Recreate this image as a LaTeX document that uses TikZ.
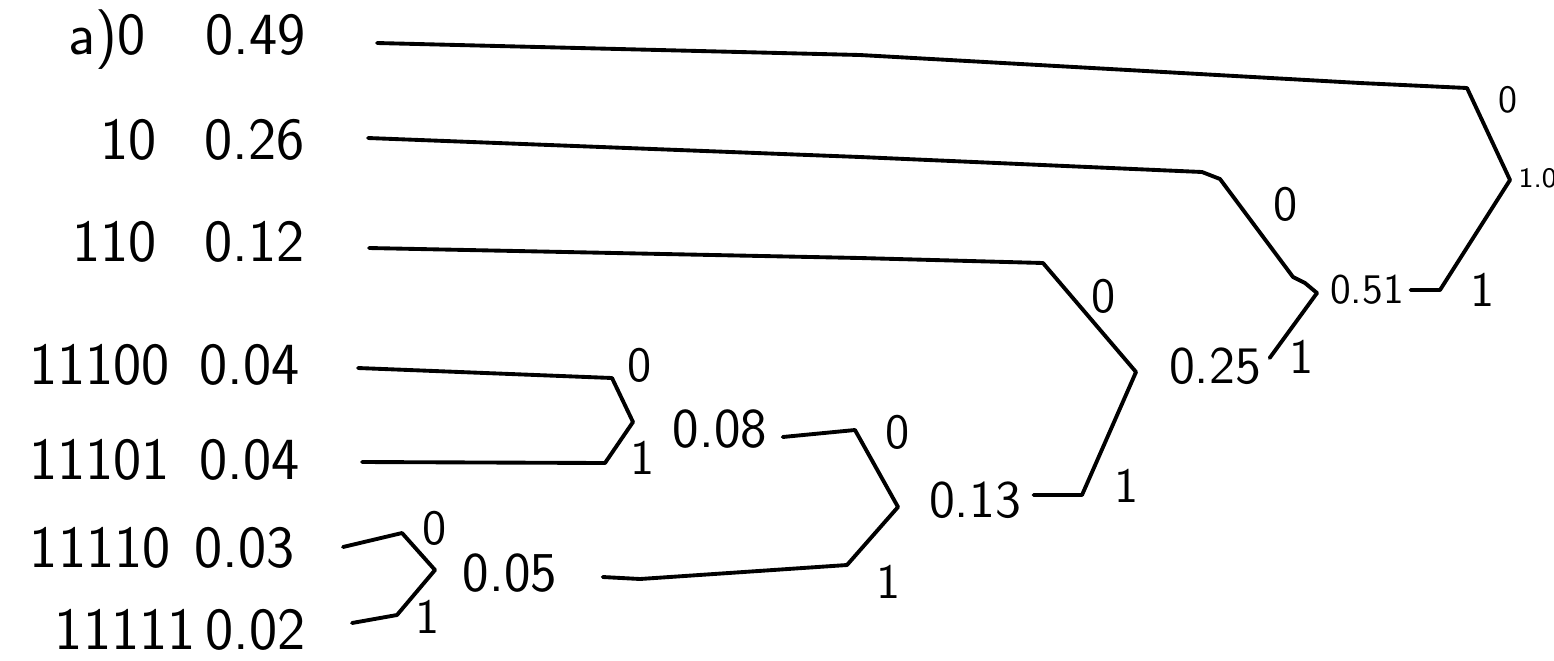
\documentclass[tikz,border=0pt]{standalone}
\usepackage{fontspec}
\usetikzlibrary{calc}
\begin{document}
\begin{tikzpicture}[x=0.01cm,y=-0.01cm,
  wire/.style={line width=1.1pt,line join=round,line cap=round},
  leaf/.style={font=\sffamily\fontsize{17}{19}\selectfont,anchor=east,inner sep=0pt},
  sum/.style={font=\sffamily\fontsize{16}{18}\selectfont,inner sep=0pt},
  sumsmall/.style={font=\sffamily\fontsize{12}{14}\selectfont,inner sep=0pt},
  rootlbl/.style={font=\sffamily\fontsize{8}{10}\selectfont,inner sep=0pt},
  bit/.style={font=\sffamily\fontsize{14}{16}\selectfont,inner sep=0pt},
  bitsmall/.style={font=\sffamily\fontsize{11}{13}\selectfont,inner sep=0pt}]
\useasboundingbox (0,0) rectangle (1554,660);

% leaves
\node[leaf] (l1) at (306,40) {a)0\hspace{1em}0.49};
\node[leaf] (l2) at (305,140) {10\hspace{0.8em}0.26};
\node[leaf] (l3) at (305,242) {110\hspace{0.8em}0.12};
\node[leaf] (l4) at (300,365) {11100\hspace{0.5em}0.04};
\node[leaf] (l5) at (300,460) {11101\hspace{0.5em}0.04};
\node[leaf] (l6) at (295,548) {11110\hspace{0.4em}0.03};
\node[leaf] (l7) at (306,630) {11111\,0.02};

% internal sums
\node[sum] (n08) at (720,429) {0.08};
\node[sum] (n05) at (510,573) {0.05};
\node[sum,font=\sffamily\fontsize{15}{17}\selectfont] (n13) at (975,500) {0.13};
\node[sum,font=\sffamily\fontsize{15}{17}\selectfont] (n25) at (1215,366) {0.25};
\node[sumsmall] (n51) at (1367,290) {0.51};
\node[rootlbl,anchor=west] (root) at (1518,178) {1.0};

% junctions
\coordinate (jr) at (1510,180);
\coordinate (j51) at (1317,293);
\coordinate (j25) at (1136,372);
\coordinate (j13) at (898,507);
\coordinate (j08) at (633,422);
\coordinate (j05) at (435,570);

% connectors
\draw[wire] ($(l1.east)+(71,3)$) -- (860,55) -- (1360,83) -- (1467,88) -- (jr);
\draw[wire] (jr) -- (1440,290) -- ($(n51.east)+(6,0)$);
\draw[wire] ($(l2.east)+(63,-2)$) -- (860,157) -- (1202,172) -- (1220,179) -- (1293,277) -- (1305,283) -- (j51);
\draw[wire] (j51) -- ($(n25.east)+(8,-8)$);
\draw[wire] ($(l3.east)+(64,6)$) -- (860,258) -- (1043,263) -- (j25);
\draw[wire] (j25) -- (1082,495) -- ($(n13.east)+(12,-5)$);
\draw[wire] ($(l4.east)+(58,3)$) -- (612,378) -- (j08);
\draw[wire] ($(l5.east)+(62,2)$) -- (605,463) -- (j08);
\draw[wire] ($(n08.east)+(15,8)$) -- (855,430) -- (j13);
\draw[wire] (j13) -- (847,565) -- (640,579) -- ($(n05.east)+(45,4)$);
\draw[wire] ($(l6.east)+(48,-1)$) -- (402,533) -- (j05);
\draw[wire] ($(l7.east)+(46,-7)$) -- (397,615) -- (j05);

% branch bits
\node[bit] (b08a) at (640,365) {0};
\node[bit] (b08b) at (643,458) {1};
\node[bit] (b05a) at (435,528) {0};
\node[bit] (b05b) at (428,617) {1};
\node[bit] (b13a) at (898,432) {0};
\node[bit] (b13b) at (889,582) {1};
\node[bit] (b25a) at (1104,296) {0};
\node[bit] (b25b) at (1127,486) {1};
\node[bit] (b51a) at (1286,204) {0};
\node[bit] (b51b) at (1302,357) {1};
\node[bitsmall] (bra) at (1508,100) {0};
\node[bit] (brb) at (1483,290) {1};
\end{tikzpicture}
\end{document}
